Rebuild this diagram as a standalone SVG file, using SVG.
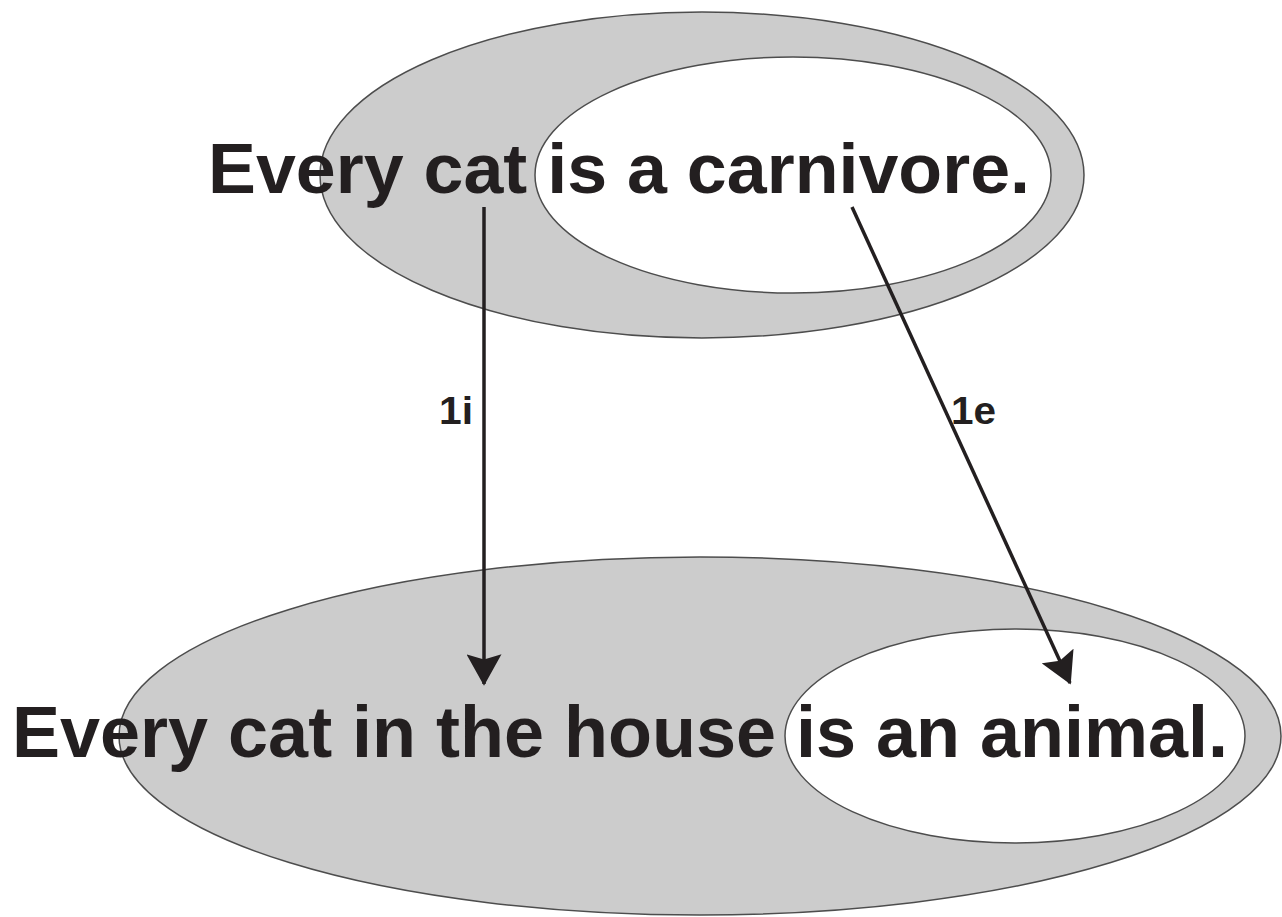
<svg xmlns="http://www.w3.org/2000/svg" width="1282" height="917" viewBox="0 0 1282 917">
<style>
.outer{fill:#cccccc;stroke:#4d4d4d;stroke-width:1.5}
.inner{fill:#ffffff;stroke:#4d4d4d;stroke-width:1.5}
.big{font-family:"Liberation Sans",Arial,sans-serif;font-weight:bold;fill:#231f20}
.lbl{font-family:"Liberation Sans",Arial,sans-serif;font-weight:bold;font-size:38px;fill:#231f20}
.conn{stroke:#231f20;stroke-width:3.5;fill:none}
</style>
<defs>
<marker id="ah" markerWidth="9" markerHeight="10" refX="8.5" refY="5" orient="auto" markerUnits="strokeWidth" viewBox="0 0 9 10">
<path d="M0,0 L9,5 L0,10 L1.5,5 Z" fill="#231f20"/>
</marker>
</defs>
<rect width="1282" height="917" fill="#ffffff"/>
<g id="node-top">
<ellipse class="outer" cx="702" cy="175" rx="382" ry="163"/>
<ellipse class="inner" cx="793" cy="175" rx="258" ry="118"/>
<text class="big" x="208" y="193" font-size="71" textLength="822" lengthAdjust="spacingAndGlyphs">Every cat is a carnivore.</text>
</g>
<g id="node-bottom">
<ellipse class="outer" cx="700" cy="736" rx="581" ry="179"/>
<ellipse class="inner" cx="1015" cy="736" rx="230" ry="107"/>
<text class="big" x="12" y="757" font-size="73" textLength="1216" lengthAdjust="spacingAndGlyphs">Every cat in the house is an animal.</text>
</g>
<g id="connectors">
<line class="conn" x1="484" y1="207" x2="484" y2="684" marker-end="url(#ah)"/>
<line class="conn" x1="852" y1="207" x2="1070" y2="683" marker-end="url(#ah)"/>
<text class="lbl" x="439" y="424" textLength="34" lengthAdjust="spacingAndGlyphs">1i</text>
<text class="lbl" x="951" y="424" textLength="45" lengthAdjust="spacingAndGlyphs">1e</text>
</g>
</svg>
